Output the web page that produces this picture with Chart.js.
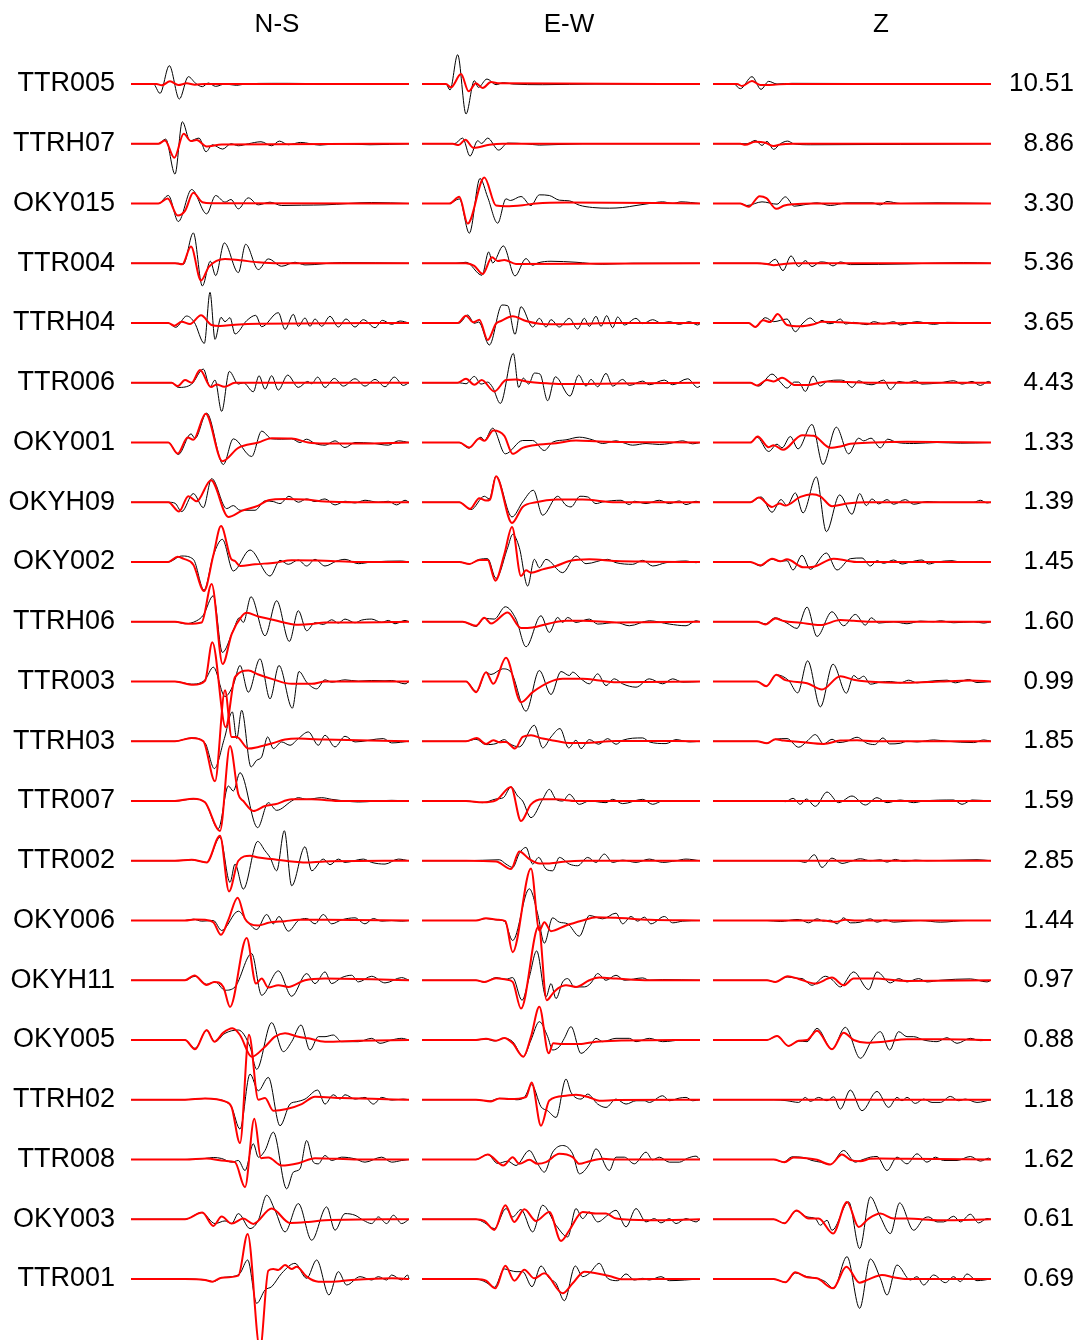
<!DOCTYPE html>
<html>
<head>
<meta charset="utf-8">
<script src="https://cdn.jsdelivr.net/npm/chart.js@4"></script>
<style>
  html, body { margin: 0; padding: 0; background: #fff; }
  #wrap { width: 1083px; height: 1340px; position: relative; }
</style>
</head>
<body>
<div id="wrap"><canvas id="wave"></canvas></div>
<script>
// stations top to bottom, with the max amplitude printed on the right
const stations = ["TTR005", "TTRH07", "OKY015", "TTR004", "TTRH04", "TTR006", "OKY001",
  "OKYH09", "OKY002", "TTRH06", "TTR003", "TTRH03", "TTR007", "TTR002",
  "OKY006", "OKYH11", "OKY005", "TTRH02", "TTR008", "OKY003", "TTR001"];
const peakAmp = [10.51, 8.86, 3.30, 5.36, 3.65, 4.43, 1.33, 1.39, 1.45, 1.60, 0.99,
  1.85, 1.59, 2.85, 1.44, 0.97, 0.88, 1.18, 1.62, 0.61, 0.69];
const components = ["N-S", "E-W", "Z"];

// each trace: "time amp time amp ..." turning points, amp in counts (up = +)
const nsObs = [
  "18 0 85 0 105 -28 133 55 163 -45 190 22 212 2 232 -8 250 3 272 -7 300 0 335 -4 360 0 440 2 490 2 600 1 852 0",
  "18 0 100 0 122 14 150 -91 172 66 195 9 222 17 243 -24 262 -3 293 -16 318 0 340 -6 370 0 408 6 440 -6 463 8 490 -3 527 4 585 -4 640 0 735 -3 852 0",
  "18 0 100 0 130 24 160 -54 200 42 245 -31 272 24 300 4 318 12 340 -16 370 17 400 -4 435 4 470 -6 530 -5 600 -4 740 3 852 0",
  "18 0 160 0 175 -3 205 91 232 -68 256 6 272 -37 298 61 340 -28 362 57 400 -19 430 13 470 -9 510 3 540 -5 650 2 852 0",
  "18 0 130 0 152 -13 185 21 208 2 238 -61 255 92 270 -49 288 17 300 4 315 16 330 -33 365 7 392 23 410 -11 460 31 480 -19 505 26 520 -10 540 15 555 -10 570 12 590 -10 615 20 640 -12 663 12 690 -12 715 10 750 -14 772 8 800 -4 825 6 852 0",
  "18 0 140 0 160 -14 200 -4 235 41 255 -12 270 8 290 -86 313 34 340 -4 355 0 385 -27 402 21 420 -19 440 21 460 -22 488 23 520 -14 548 4 560 -3 578 17 600 -14 628 13 655 -10 690 12 720 -10 750 10 780 -12 808 17 835 -8 852 0",
  "18 0 130 0 160 -36 198 26 210 12 245 88 295 -66 325 11 380 -42 410 34 440 11 470 10 500 11 525 0 545 10 570 -3 600 -8 630 5 660 -15 690 0 740 -2 790 -8 820 5 852 0",
  "18 0 130 0 150 -3 170 -28 205 26 235 -16 260 71 305 -19 325 -10 345 -24 390 -24 420 4 445 2 465 -4 492 18 520 0 545 10 570 2 600 10 630 -8 660 3 690 -2 720 6 760 0 790 3 815 -8 840 6 852 0",
  "18 0 130 0 170 18 205 8 237 -84 265 20 292 68 325 -27 375 36 435 -42 465 5 490 -7 520 6 545 -12 570 8 600 -12 635 3 660 8 700 -5 740 0 830 3 852 0",
  "18 0 150 0 180 -6 215 3 235 20 265 78 292 -92 325 -25 343 12 355 -2 378 75 420 -42 455 63 493 -59 520 33 545 -27 570 -3 595 -8 620 6 640 -4 660 8 690 -3 710 5 740 8 770 -2 790 4 810 -6 840 4 852 0",
  "18 0 150 0 200 -8 240 5 265 43 300 -45 325 -10 345 48 370 -32 405 68 435 -52 462 48 502 -80 522 30 545 -2 575 -22 600 5 620 -2 660 5 700 1 740 3 780 2 800 3 840 -7 852 0",
  "18 0 150 0 200 10 240 -5 268 -82 298 8 322 88 335 8 350 93 378 -77 395 -57 410 -47 428 13 445 -22 470 -2 495 -12 520 8 550 28 580 -12 600 18 630 -17 660 15 690 -2 775 8 800 -5 852 0",
  "18 0 150 0 205 6 240 -5 280 -83 310 45 325 30 345 85 398 -80 430 -5 455 -28 500 0 520 10 545 5 590 10 620 5 660 0 700 -3 800 2 852 0",
  "18 0 150 0 200 3 245 -5 285 70 315 -65 330 -10 355 -85 398 58 420 30 435 10 455 -30 478 90 500 -75 540 42 560 -30 595 5 615 -12 640 5 660 -5 715 5 740 -5 780 -10 820 5 852 0",
  "18 0 180 0 205 4 230 -2 265 0 290 -30 340 28 365 0 395 -27 425 18 445 -10 462 12 490 -32 520 0 545 6 570 -10 595 18 620 -10 650 2 690 8 720 -10 745 6 770 -2 800 0 830 -2 852 0",
  "18 0 180 0 210 12 245 -12 270 -5 300 -30 330 -20 380 80 410 -45 460 28 500 -48 545 20 570 -10 600 25 620 -10 650 8 680 15 700 -5 740 12 780 -8 830 8 852 0",
  "18 0 180 0 210 -25 245 28 270 -5 300 20 340 30 375 -20 395 -88 440 52 475 -35 500 -5 528 45 555 -30 580 10 600 10 625 15 650 -5 700 -5 740 5 765 -10 800 0 830 5 852 0",
  "18 0 180 0 240 4 270 2 300 -5 320 -23 345 -88 375 77 400 27 430 67 465 -78 495 -13 515 -6 540 2 578 29 600 -13 625 15 645 2 660 15 690 2 720 7 745 -13 770 7 800 -1 835 2 852 0",
  "18 0 180 0 240 3 265 6 290 3 320 -8 340 -3 360 -33 385 47 400 7 420 27 445 82 485 -88 505 -38 525 -28 545 57 565 -8 580 -13 600 12 620 -3 650 7 690 2 720 -8 770 7 800 -8 830 -3 852 0",
  "18 0 180 0 230 20 270 -13 300 -5 320 -13 340 17 375 -28 400 -3 425 72 450 27 480 -38 520 47 560 -63 605 37 630 -33 660 17 690 12 715 -3 740 -13 760 7 785 -13 805 12 830 -13 852 0",
  "18 0 180 0 240 -3 265 -8 290 4 320 7 345 17 368 57 395 -73 420 -33 440 -23 470 17 510 47 545 2 575 57 612 -48 640 22 665 -18 705 7 740 -3 760 7 785 -3 800 12 830 -3 848 12 852 0"
];
const nsSyn = [
  "18 0 95 0 110 -4 135 8 160 -3 185 2 210 -2 240 0 852 0",
  "18 0 100 0 120 10 148 -42 176 30 198 8 215 11 245 -8 290 -2 852 0",
  "18 0 100 0 128 15 158 -36 180 -22 205 32 232 4 260 1 852 0",
  "18 0 150 0 172 -3 198 50 228 -52 252 -10 300 13 345 9 400 3 460 0 852 0",
  "18 0 130 0 148 -8 170 4 195 -3 228 23 260 -6 285 -9 330 -5 400 -2 852 0",
  "18 0 140 0 158 -10 180 8 200 0 225 38 258 -13 275 -5 298 -12 330 0 852 0",
  "18 0 130 0 158 -33 188 15 205 8 242 86 292 -56 340 -16 400 0 440 13 500 12 550 0 600 -3 700 -3 852 0",
  "18 0 130 0 162 -28 190 18 215 3 258 66 310 -44 350 -26 400 -10 430 6 480 10 540 8 600 2 700 0 852 0",
  "18 0 130 0 158 16 175 10 205 -8 237 -87 265 20 288 108 318 10 330 3 345 -12 390 -7 450 -2 500 5 600 4 700 0 852 0",
  "18 0 150 0 190 -6 230 -2 260 113 293 -127 320 -37 350 16 365 27 400 16 440 7 480 -3 520 -9 560 -7 600 -2 700 -2 852 0",
  "18 0 150 0 205 -10 240 2 262 118 302 -137 330 13 370 33 400 21 440 8 500 -7 560 -7 600 0 852 0",
  "18 0 150 0 200 10 235 0 270 -120 300 153 320 13 335 13 370 -22 400 -17 440 -7 480 5 520 8 600 5 852 0",
  "18 0 150 0 205 7 240 -4 285 -90 315 165 340 20 355 0 385 -30 420 -15 450 -10 500 5 560 5 650 0 852 0",
  "18 0 150 0 200 3 245 -5 285 75 312 -92 340 0 375 15 400 10 440 5 500 -2 540 -5 600 -2 852 0",
  "18 0 180 0 210 3 240 2 265 -5 288 -43 310 2 338 68 360 5 375 -10 400 -15 430 -7 480 -2 520 2 600 2 852 0",
  "18 0 180 0 208 14 245 -14 268 -5 295 -20 315 -80 365 127 393 -10 410 5 430 -22 460 -15 490 -20 540 0 600 5 852 0",
  "18 0 180 0 210 -28 245 30 268 -5 295 22 322 35 345 15 380 -50 420 -20 450 10 480 20 520 10 550 5 600 -5 700 -2 852 0",
  "18 0 180 0 240 4 300 -5 320 -23 345 -130 372 195 400 0 420 5 445 -33 485 -28 530 -13 570 9 650 5 852 0",
  "18 0 180 0 245 3 300 -4 330 -8 360 -83 388 122 408 4 430 6 470 -18 520 -11 570 4 700 0 852 0",
  "18 0 180 0 232 20 265 -20 290 8 320 -13 355 2 385 -14 440 32 495 -11 550 -8 600 -3 852 0",
  "18 0 180 0 240 -3 262 -8 290 4 340 10 368 135 405 -210 430 25 445 30 460 27 480 42 500 30 515 37 545 7 580 -8 620 -8 680 -3 800 2 852 0"
];
const ewObs = [
  "18 0 90 0 102 -18 125 88 150 -90 175 10 187 -10 213 15 240 -2 262 4 290 0 380 -2 540 0 852 0",
  "18 0 115 0 140 17 162 -37 185 9 197 1 215 17 248 -19 275 2 330 0 370 -4 500 0 852 0",
  "18 0 100 0 130 14 160 -89 192 75 215 19 245 -59 270 14 283 9 315 21 345 -6 370 26 400 24 430 10 460 8 490 -5 530 -12 580 -14 620 -12 660 -6 700 0 740 5 770 0 795 5 852 0",
  "18 0 120 0 150 3 198 -36 218 34 230 1 262 52 297 -38 330 14 350 -6 365 1 405 6 480 3 560 -3 650 0 852 0",
  "18 0 130 0 155 24 175 -1 188 3 220 -66 258 54 275 52 297 -34 315 49 350 -12 370 14 390 -12 405 10 430 -12 460 14 485 -18 505 14 520 -10 540 20 555 -10 572 22 590 -14 605 18 625 -6 660 14 680 -2 710 10 735 0 760 4 790 -4 820 4 845 -6 852 -2",
  "18 0 130 0 150 -3 175 19 195 -4 215 2 230 -14 253 -62 292 88 308 -14 322 14 338 -4 355 29 372 26 395 -54 418 18 462 -40 488 23 510 -10 525 10 545 -12 570 28 590 -10 620 10 640 -8 680 5 700 -6 745 8 770 -6 815 12 845 -14 852 -10",
  "18 0 130 0 158 -17 195 16 205 6 230 43 268 -34 320 6 350 6 385 -24 410 1 450 8 490 16 530 8 560 -3 600 5 620 0 650 -8 690 -3 730 -6 760 -3 800 5 830 -4 852 0",
  "18 0 130 0 165 -22 205 18 220 10 240 78 288 -44 320 1 352 36 380 -39 425 18 450 -9 465 -14 492 18 515 16 540 -4 560 1 615 6 640 -7 655 3 690 -4 730 6 760 -4 790 4 810 -7 840 3 852 0",
  "18 0 130 0 160 -6 190 8 215 10 240 -49 275 43 290 83 310 43 335 -72 355 8 370 -17 390 8 440 -32 480 18 510 -5 575 8 600 -2 650 -7 680 5 710 -12 750 -2 810 3 840 -2 852 0",
  "18 0 140 0 180 -14 205 10 235 8 268 45 300 8 330 -75 375 18 400 -32 425 13 440 -2 455 13 480 -2 520 8 545 -7 600 -2 640 -12 700 3 760 -7 810 -12 840 3 852 0",
  "18 0 150 0 182 -30 210 28 225 21 260 38 285 28 330 -89 370 33 405 -39 435 30 460 18 470 28 495 8 520 -7 545 23 570 -12 595 8 620 -7 660 -17 700 8 740 -7 770 8 800 -2 852 0",
  "18 0 150 0 180 6 210 -10 240 -7 265 5 280 -7 310 -17 355 48 380 -20 405 13 432 38 458 -20 480 3 495 -22 520 5 548 -9 575 8 600 -9 620 3 680 10 700 -2 750 -7 780 5 820 -2 852 0",
  "18 0 150 0 200 -5 240 6 262 10 285 42 305 15 320 0 345 -50 380 5 400 35 420 5 440 0 460 20 490 -10 520 0 570 -5 590 5 620 -8 680 5 710 -10 740 0 852 0",
  "18 0 150 0 250 3 270 -10 290 -20 310 22 330 40 350 -10 368 10 390 -25 410 -30 430 10 460 -10 485 -15 515 10 540 -5 565 20 590 -5 620 2 660 -5 700 5 740 -5 780 0 810 5 852 0",
  "18 0 180 0 210 6 240 2 265 -2 290 -60 340 95 365 20 385 -68 410 8 430 -5 455 -10 490 -47 520 15 560 5 600 22 620 -10 645 12 665 -2 685 10 705 -10 745 12 770 -7 800 -2 852 0",
  "18 0 180 0 205 -6 240 8 270 3 290 8 318 -60 340 10 362 88 390 -50 405 -10 420 -55 440 -5 455 5 475 -20 505 -20 525 -8 545 20 570 0 600 15 625 0 680 7 700 0 740 2 852 0",
  "18 0 180 0 210 3 235 -3 265 5 290 -5 322 -50 345 0 370 55 395 10 410 -30 430 -20 445 5 465 40 495 -40 520 -20 540 5 560 -5 600 5 640 5 660 -5 700 5 740 -5 800 0 852 0",
  "18 0 180 0 220 -4 250 4 275 4 300 0 325 7 347 45 375 -21 395 -33 420 -53 450 62 465 22 495 2 515 17 545 -13 570 -23 600 2 630 -13 660 -3 685 -3 700 -8 740 12 760 -3 790 5 810 7 830 -3 852 0",
  "18 0 180 0 215 15 245 -12 275 -5 300 -18 340 27 365 -13 385 -38 410 22 440 42 470 17 490 -43 520 -13 540 32 580 -33 600 7 625 7 655 -13 690 22 710 -1 730 7 760 -8 790 -8 815 4 840 10 852 0",
  "18 0 180 0 205 -10 235 -28 270 32 290 7 315 29 350 -38 380 42 420 -18 455 -53 480 32 500 2 520 22 545 -8 575 12 600 27 630 -23 660 32 690 -8 715 2 735 -11 760 2 780 -13 810 2 840 -8 852 0",
  "18 0 180 0 210 -10 235 -25 265 30 285 25 300 22 320 22 348 -23 375 39 400 2 420 -13 445 -65 478 39 500 7 520 17 550 47 575 2 605 -5 630 15 655 -3 680 2 700 -3 735 7 760 -5 852 0"
];
const ewSyn = [
  "18 0 90 0 105 -10 135 30 158 -22 180 2 200 -12 225 6 250 2 852 0",
  "18 0 110 0 128 -4 148 12 172 -12 220 -3 260 0 852 0",
  "18 0 100 0 130 20 155 -60 205 78 240 -6 270 -8 320 -5 360 0 450 3 852 0",
  "18 0 150 0 175 -8 200 -32 228 18 245 7 265 10 300 -2 852 0",
  "18 0 125 0 150 22 172 2 190 10 215 -51 240 -2 255 6 290 20 330 6 370 -2 420 -4 500 -2 600 0 852 0",
  "18 0 125 0 150 12 175 -6 197 8 235 -26 270 8 300 10 330 4 400 -2 450 -4 600 -2 852 0",
  "18 0 130 0 160 -15 190 12 205 5 232 36 265 20 290 -34 320 -16 370 -6 420 -2 480 6 550 3 852 0",
  "18 0 130 0 162 -20 190 12 210 5 222 8 240 78 288 -62 320 -14 360 0 420 8 500 8 600 0 852 0",
  "18 0 130 0 160 -6 190 6 215 6 238 -56 265 23 288 105 315 -42 330 -25 345 -32 380 -22 420 -12 460 3 520 8 600 3 700 1 852 0",
  "18 0 140 0 180 -12 205 12 225 -5 275 28 315 -19 350 -17 400 -5 450 3 500 3 600 -2 852 0",
  "18 0 150 0 180 -32 210 28 232 -7 270 71 315 -62 350 -32 400 -2 440 8 500 8 550 3 600 -2 852 0",
  "18 0 150 0 182 10 210 -8 232 3 250 -3 270 -2 297 -22 320 13 345 18 380 8 420 1 460 -5 500 -5 600 1 852 0",
  "18 0 150 0 200 -4 240 2 285 42 315 -60 345 -10 380 5 420 5 480 0 852 0",
  "18 0 150 0 240 -2 285 -25 310 28 340 5 370 -8 400 -8 450 -2 500 0 852 0",
  "18 0 180 0 210 7 245 2 268 -2 290 -95 345 156 370 -30 385 -5 405 -32 450 -15 500 0 540 10 600 8 700 2 852 0",
  "18 0 180 0 205 -5 240 6 270 2 290 -5 315 -85 368 162 392 -60 410 -40 425 -25 450 -15 480 -20 520 0 550 8 600 5 700 0 852 0",
  "18 0 180 0 210 4 240 -2 265 6 290 -10 322 -50 345 10 370 100 398 -40 412 -10 440 -12 490 -12 540 -5 600 -2 852 0",
  "18 0 180 0 225 -5 250 4 280 2 330 8 347 52 375 -78 400 -2 450 12 480 15 520 7 550 -3 600 -1 852 0",
  "18 0 180 0 215 15 262 -18 290 7 310 -13 340 -1 365 -13 390 -8 430 17 470 7 490 -13 520 -5 560 2 600 0 852 0",
  "18 0 180 0 205 -5 235 -32 268 42 295 -8 325 30 360 -5 400 22 435 -65 460 -33 500 22 540 17 570 17 600 2 700 -3 852 0",
  "18 0 180 0 210 -5 238 -28 268 40 295 -5 325 28 355 2 385 17 440 -43 470 -13 505 22 540 17 580 9 620 -1 700 0 852 0"
];
const zObs = [
  "18 0 80 0 100 -14 135 22 162 -16 185 8 210 0 255 2 852 0",
  "18 0 120 0 145 10 165 -5 180 7 200 -17 220 0 242 8 260 0 310 -3 852 0",
  "18 0 100 0 120 -6 165 5 210 -2 235 20 262 -8 290 -4 330 2 370 -6 420 2 495 2 520 -4 540 6 580 0 690 2 852 0",
  "18 0 160 0 180 -3 205 12 228 -22 252 22 275 -10 295 8 315 -10 340 4 360 2 378 -8 400 4 430 -4 600 -2 770 2 852 0",
  "18 0 125 0 145 -12 175 16 200 4 240 12 265 -26 285 -3 310 15 330 0 345 8 365 -2 380 0 400 12 415 -3 440 2 460 -2 480 -5 500 4 530 -3 560 4 580 -6 630 4 680 -4 720 2 852 0",
  "18 0 130 0 155 -10 195 26 220 2 240 -16 262 2 275 2 295 -26 318 20 340 -10 360 4 400 8 415 4 435 -14 455 6 475 -3 495 -6 530 8 550 -20 575 4 600 0 625 6 645 -4 700 0 740 6 765 -4 795 4 820 -8 845 4 852 0",
  "18 0 130 0 150 16 185 -27 210 -5 225 -16 250 18 273 -19 315 54 348 -66 388 46 425 -34 455 13 470 5 492 13 520 -16 542 10 570 0 620 -3 690 0 760 -2 852 0",
  "18 0 130 0 162 16 195 -30 222 8 240 -10 265 28 288 -32 328 76 358 -88 398 22 435 -36 458 26 478 -10 495 10 515 -5 540 8 560 -6 595 8 620 -6 660 2 700 0 800 0 820 6 840 -2 852 0",
  "18 0 130 0 160 -12 195 8 220 2 240 4 258 -24 285 20 310 -22 358 27 390 -24 430 10 465 12 490 -12 510 4 530 -4 560 6 585 -6 610 0 645 6 665 -6 690 0 735 4 760 0 852 0",
  "18 0 150 0 175 -6 205 12 240 -4 270 -20 300 44 330 -44 375 30 410 -12 445 22 475 -10 493 12 515 -4 560 0 600 -6 640 2 680 0 700 3 740 -3 800 0 830 -4 852 0",
  "18 0 150 0 178 -14 208 20 245 3 272 -34 302 62 340 -76 378 52 418 -35 440 18 455 8 470 16 490 -8 520 -2 550 0 580 -4 605 4 630 -4 660 0 720 4 745 -4 785 6 810 -3 852 0",
  "18 0 150 0 180 -6 205 6 240 8 275 -18 300 0 325 20 350 -8 375 6 395 -4 420 0 450 12 480 -6 503 -10 528 10 548 -8 580 -6 600 0 630 -2 680 4 720 0 800 -4 830 4 852 0",
  "18 0 220 0 235 -2 258 8 280 -10 298 6 325 -16 360 27 395 -5 435 15 475 -12 510 10 540 -5 580 3 620 -5 650 0 740 3 765 -10 795 3 852 0",
  "18 0 270 0 295 -5 322 18 345 -20 375 8 405 -8 430 -2 460 6 490 0 520 3 540 -4 565 4 590 -2 625 2 660 0 810 3 852 0",
  "18 0 180 0 220 -3 270 3 285 1 305 -7 330 5 350 -2 370 1 390 -10 410 8 430 -7 460 -5 490 5 510 -5 535 2 560 -5 600 -2 640 0 700 -5 780 0 852 0",
  "18 0 180 0 205 -5 240 10 270 6 285 5 315 -15 355 12 375 2 400 -20 440 25 485 -28 510 25 550 -8 575 5 600 -5 635 5 660 -5 700 0 790 4 840 -5 852 0",
  "18 0 180 0 210 12 245 -18 275 -3 300 -5 330 35 375 -28 415 38 460 -55 495 0 520 25 548 -30 575 25 600 10 620 10 650 0 690 -5 720 7 750 -10 790 5 820 -2 852 0",
  "18 0 200 0 240 -3 275 -8 295 7 310 -5 335 7 360 -3 380 9 400 -28 430 29 465 -33 510 25 545 -23 570 7 585 -3 600 7 625 -11 650 2 675 -8 700 -8 730 10 755 -3 775 2 810 -8 852 0",
  "18 0 200 0 230 -8 255 8 290 6 315 -3 340 -8 370 -15 410 27 445 -8 460 -3 490 7 510 9 540 -33 570 7 600 -13 630 17 660 -8 685 7 710 -3 750 -3 790 9 820 -5 845 4 852 0",
  "18 0 200 0 232 -12 268 25 300 7 325 2 340 -18 360 -3 375 -33 425 52 458 -88 490 67 520 7 550 -43 578 49 620 -33 650 2 665 7 690 -8 710 -8 740 9 760 -8 790 15 815 -11 840 2 852 0",
  "18 0 200 0 235 -10 265 18 300 7 330 2 355 -8 380 -28 420 67 458 -88 490 60 520 2 540 -48 570 42 610 -3 630 7 650 -18 680 12 715 -11 740 7 760 -8 780 15 810 -5 852 0"
];
const zSyn = [
  "18 0 90 0 105 -6 135 9 160 -3 200 -2 240 0 852 0",
  "18 0 100 0 115 -3 145 6 175 3 200 -7 220 -2 260 0 852 0",
  "18 0 100 0 125 -10 158 22 178 16 208 -16 232 -6 260 -2 320 0 852 0",
  "18 0 150 0 180 -2 200 -6 230 -2 260 0 852 0",
  "18 0 125 0 145 -12 168 8 190 3 212 27 240 -6 280 -10 320 -4 345 4 400 2 500 -2 600 0 852 0",
  "18 0 130 0 150 -8 180 8 200 4 225 15 265 -7 300 -7 360 4 420 2 500 0 852 0",
  "18 0 130 0 152 18 185 -14 200 -8 228 -22 285 22 320 20 370 -16 400 -12 430 -4 500 0 600 2 852 0",
  "18 0 130 0 155 14 195 -14 218 -4 235 -10 280 16 315 24 340 18 375 -12 420 -4 480 0 852 0",
  "18 0 130 0 160 -10 195 10 220 2 240 8 290 -16 320 -14 380 10 420 4 450 0 852 0",
  "18 0 150 0 175 -8 205 10 230 2 280 -3 340 -10 400 5 440 3 500 0 852 0",
  "18 0 150 0 178 -14 208 20 235 4 300 -5 345 -24 400 16 440 5 480 0 600 -4 700 0 790 3 852 0",
  "18 0 150 0 180 -6 205 6 230 2 280 -2 350 -8 400 2 450 3 500 0 852 0",
  "18 0 852 0",
  "18 0 852 0",
  "18 0 350 0 385 -4 415 2 450 0 852 0",
  "18 0 180 0 205 -5 242 12 275 4 325 -10 375 8 410 -15 440 5 500 5 600 -2 852 0",
  "18 0 180 0 210 12 245 -18 275 -2 300 0 330 28 375 -28 410 22 440 0 480 -8 530 -5 600 2 700 2 852 0",
  "18 0 852 0",
  "18 0 200 0 232 -8 260 6 300 4 330 -1 370 -15 405 15 430 -1 460 -5 490 2 520 3 600 2 852 0",
  "18 0 200 0 232 -12 268 26 305 2 335 2 378 -43 420 52 455 -23 485 2 520 17 560 2 600 2 700 -3 852 0",
  "18 0 200 0 235 -10 265 20 300 5 330 2 378 -28 418 37 458 -11 485 -1 525 12 560 5 600 0 852 0"
];

const ROW = 179.25;            // counts between neighbouring traces
const SPAN = 873;              // time shift from one component panel to the next
const titleAt = [456, 459, 522];

Chart.defaults.font.family = '"Liberation Sans", Arial, Helvetica, sans-serif';
Chart.defaults.font.size = 26;
Chart.defaults.color = '#000';

function trace(str, row, col) {
  const v = str.trim().split(/\s+/).map(Number);
  const pts = [];
  for (let i = 0; i < v.length; i += 2) {
    pts.push({ x: col * SPAN + v[i], y: -row + v[i + 1] / ROW });
  }
  return pts;
}

const obs = [nsObs, ewObs, zObs];
const syn = [nsSyn, ewSyn, zSyn];
const datasets = [];
for (let c = 0; c < 3; c++) {
  for (let r = 0; r < stations.length; r++) {
    datasets.push({ data: trace(obs[c][r], r, c), borderColor: '#000', borderWidth: 1, order: 2 });
    datasets.push({ data: trace(syn[c][r], r, c), borderColor: '#ff0000', borderWidth: 2, order: 1 });
  }
}
datasets.forEach(d => { d.clip = false; d.pointRadius = 0; d.cubicInterpolationMode = 'monotone'; d.fill = false; });

const rowTicks = axis => { axis.ticks = stations.map((s, i) => ({ value: -i })); };
// keep the label overhang from shrinking the plot area
const fixWidth = w => s => { s.width = w; s.paddingTop = 0; s.paddingBottom = 0; };

// component names above each panel
const titles = {
  id: 'titles',
  afterDraw(chart) {
    const ctx = chart.ctx, xs = chart.scales.x;
    ctx.save();
    ctx.font = '26px "Liberation Sans", Arial, sans-serif';
    ctx.fillStyle = '#000';
    ctx.textAlign = 'center';
    ctx.textBaseline = 'middle';
    components.forEach((name, c) => ctx.fillText(name, xs.getPixelForValue(c * SPAN + titleAt[c]), 25));
    ctx.restore();
  }
};

new Chart(document.getElementById('wave'), {
  type: 'line',
  data: { datasets },
  options: {
    animation: false,
    responsive: true,
    maintainAspectRatio: false,
    events: [],
    layout: { padding: { top: 45, right: 9, bottom: 0, left: 0 } },
    plugins: { legend: { display: false }, tooltip: { enabled: false } },
    elements: { line: { borderJoinStyle: 'round' } },
    scales: {
      x: { type: 'linear', min: 18, max: 2601, display: false },
      y: {
        type: 'linear', position: 'left', min: -21.021, max: 0.653,
        grid: { display: false, drawTicks: false }, border: { display: false },
        afterBuildTicks: rowTicks,
        afterFit: fixWidth(131),
        ticks: { autoSkip: false, padding: 16, font: { size: 27 }, callback: v => stations[Math.round(-v)] }
      },
      y2: {
        type: 'linear', position: 'right', min: -21.021, max: 0.653,
        grid: { display: false, drawTicks: false }, border: { display: false },
        afterBuildTicks: rowTicks,
        afterFit: fixWidth(82),
        ticks: { autoSkip: false, padding: 0, crossAlign: 'far', callback: v => peakAmp[Math.round(-v)].toFixed(2) }
      }
    }
  },
  plugins: [titles]
});
</script>
</body>
</html>
